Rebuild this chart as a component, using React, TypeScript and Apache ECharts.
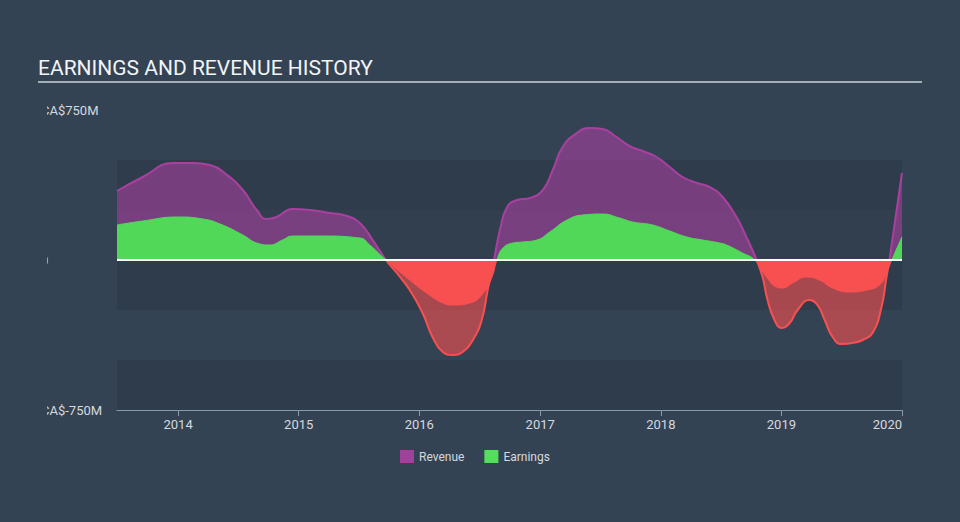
import React, { useEffect, useRef } from "react";
import * as echarts from "echarts";

const revenueDates = [
  "2013-06-30", "2013-09-16", "2013-12-16", "2014-02-15", "2014-04-08", "2014-05-29",
  "2014-07-16", "2014-08-27", "2014-09-26", "2014-10-26", "2014-12-13", "2015-02-04",
  "2015-04-05", "2015-05-27", "2015-07-05", "2015-08-13", "2015-09-22", "2015-10-25",
  "2015-12-03", "2016-01-11", "2016-02-10", "2016-03-12", "2016-04-11", "2016-05-11",
  "2016-06-11", "2016-07-08", "2016-07-26", "2016-08-14", "2016-09-01", "2016-09-23",
  "2016-10-23", "2016-12-01", "2017-01-09", "2017-02-08", "2017-03-10", "2017-04-22",
  "2017-05-31", "2017-07-09", "2017-08-20", "2017-09-28", "2017-11-07", "2017-12-19",
  "2018-01-28", "2018-03-08", "2018-04-20", "2018-05-29", "2018-07-07", "2018-08-18",
  "2018-09-17", "2018-10-18", "2018-11-05", "2018-11-20", "2018-12-11", "2019-01-02",
  "2019-01-26", "2019-02-19", "2019-03-27", "2019-04-20", "2019-05-12", "2019-06-05",
  "2019-07-02", "2019-08-04", "2019-09-04", "2019-10-04", "2019-10-31", "2019-11-15",
  "2019-11-24", "2020-01-01",
];
const revenueValues = [
  345, 415, 485, 485, 475, 425,
  350, 250, 205, 215, 255, 250,
  235, 220, 185, 100, 0, -65,
  -150, -265, -385, -460, -475, -460,
  -400, -300, -150, 0, 150, 265,
  300, 310, 350, 450, 565, 635,
  660, 655, 615, 570, 545, 515,
  465, 415, 385, 365, 315, 215,
  115, 0, -85, -200, -300, -340,
  -315, -250, -200, -225, -300, -385,
  -420, -415, -400, -365, -235, -85,
  0, 435,
];

const earningsDates = [
  "2013-06-30", "2013-09-16", "2013-12-29", "2014-03-17", "2014-05-08", "2014-07-16",
  "2014-08-27", "2014-10-05", "2014-11-13", "2014-12-13", "2015-03-06", "2015-07-05",
  "2015-08-04", "2015-09-22", "2015-12-03", "2016-01-23", "2016-03-12", "2016-04-11",
  "2016-06-02", "2016-07-13", "2016-08-08", "2016-08-23", "2016-09-10", "2016-10-11",
  "2016-11-08", "2016-12-22", "2017-01-30", "2017-03-23", "2017-05-10", "2017-07-09",
  "2017-08-29", "2017-10-08", "2017-12-07", "2018-01-28", "2018-03-21", "2018-05-08",
  "2018-06-28", "2018-07-19", "2018-09-05", "2018-10-12", "2018-11-17", "2018-12-17",
  "2019-01-05", "2019-02-04", "2019-03-18", "2019-04-26", "2019-06-05", "2019-07-26",
  "2019-09-16", "2019-10-25", "2019-11-15", "2019-12-01", "2020-01-01",
];
const earningsValues = [
  175, 195, 215, 205, 180, 125,
  85, 75, 100, 120, 120, 110,
  75, 0, -100, -165, -215, -225,
  -215, -165, -85, 0, 60, 85,
  90, 100, 140, 200, 225, 230,
  210, 190, 175, 145, 115, 100,
  85, 75, 35, 0, -85, -135,
  -140, -115, -85, -100, -140, -160,
  -150, -125, -65, 0, 115,
];

const yLabelMap: Record<string, string> = { "750": "CA$750M", "0": "0", "-750": "CA$-750M" };

const BG = "#344354";
const DARK = "#2e3c4b";
const MID = "#313f4f";
const PURPLE = "#a8409f";
const GREEN = "#52d858";
const RED = "#f85050";

const ts = (d: string) => new Date(d + "T00:00:00Z").getTime();

export default function App() {
  const ref = useRef<HTMLDivElement>(null);
  useEffect(() => {
    document.body.style.margin = "0";
    document.body.style.background = BG;
    const chart = echarts.init(ref.current!, null, { renderer: "svg" });
    const rev = revenueDates.map((d, i) => [ts(d), revenueValues[i]]);
    const earn = earningsDates.map((d, i) => [ts(d), earningsValues[i]]);
    chart.setOption({
      animation: false,
      backgroundColor: BG,
      textStyle: { fontFamily: "Roboto" },
      title: {
        text: "EARNINGS AND REVENUE HISTORY",
        left: 38,
        top: 57,
        padding: 0,
        textStyle: { color: "#f2f4f6", fontSize: 21, fontWeight: "normal", fontFamily: "Roboto" },
      },
      grid: { left: 117, right: 58, top: 110, bottom: 112, containLabel: false },
      legend: {
        left: 400,
        top: 450,
        padding: 0,
        icon: "rect",
        itemWidth: 14,
        itemHeight: 13,
        itemGap: 20,
        textStyle: { color: "#d4d9de", fontSize: 12, fontFamily: "Roboto" },
        data: [
          { name: "Revenue", itemStyle: { color: "#a2409c" } },
          { name: "Earnings", itemStyle: { color: "#52e05a" } },
        ],
      },
      visualMap: [
        {
          show: false,
          type: "piecewise",
          seriesIndex: 0,
          dimension: 1,
          pieces: [
            { gte: -5000, lt: 0, color: RED },
            { gte: 0, lte: 5000, color: PURPLE },
          ],
        },
        {
          show: false,
          type: "piecewise",
          seriesIndex: 1,
          dimension: 1,
          pieces: [
            { gte: -5000, lt: 0, color: RED },
            { gte: 0, lte: 5000, color: GREEN },
          ],
        },
      ],
      xAxis: {
        type: "time",
        min: ts("2013-06-30"),
        max: ts("2020-01-01"),
        axisLine: { show: true, onZero: false, lineStyle: { color: "#8a98a8", width: 1 } },
        axisTick: { show: true, length: 6, lineStyle: { color: "#8a98a8" } },
        axisLabel: {
          color: "#d4d9de",
          fontSize: 13,
          margin: 8,
          showMaxLabel: true,
          alignMaxLabel: "right",
          formatter: "{yyyy}",
        },
        splitLine: { show: false },
      },
      yAxis: {
        type: "value",
        min: -750,
        max: 750,
        interval: 250,
        axisLine: { show: false },
        axisTick: { show: false },
        splitLine: { show: false },
        splitArea: { show: true, areaStyle: { color: [DARK, BG, DARK, MID, DARK, BG] } },
        axisLabel: {
          color: "#d4d9de",
          fontSize: 13,
          align: "left",
          margin: 76,
          formatter: (v: number) => yLabelMap[String(v)] ?? "",
        },
      },
      series: [
        {
          name: "Revenue",
          type: "line",
          data: rev,
          smooth: 0.5,
          showSymbol: false,
          lineStyle: { width: 2 },
          areaStyle: { opacity: 0.6 },
          z: 2,
        },
        {
          name: "Earnings",
          type: "line",
          data: earn,
          smooth: 0.5,
          showSymbol: false,
          lineStyle: { width: 1 },
          areaStyle: { opacity: 1 },
          z: 3,
          markLine: {
            silent: true,
            symbol: "none",
            label: { show: false },
            lineStyle: { color: "#ffffff", width: 2, type: "solid" },
            data: [{ yAxis: 0 }],
            z: 5,
          },
        },
      ],
      graphic: [
        {
          type: "line",
          shape: { x1: 38, y1: 82, x2: 922, y2: 82 },
          style: { stroke: "#a4aeb8", lineWidth: 2 },
          z: 10,
        },
        {
          type: "rect",
          shape: { x: 0, y: 95, width: 47, height: 335 },
          style: { fill: BG },
          z: 100,
        },
      ],
    });
    return () => chart.dispose();
  }, []);
  return <div ref={ref} style={{ position: "fixed", left: 0, top: 0, width: 960, height: 522 }} />;
}
